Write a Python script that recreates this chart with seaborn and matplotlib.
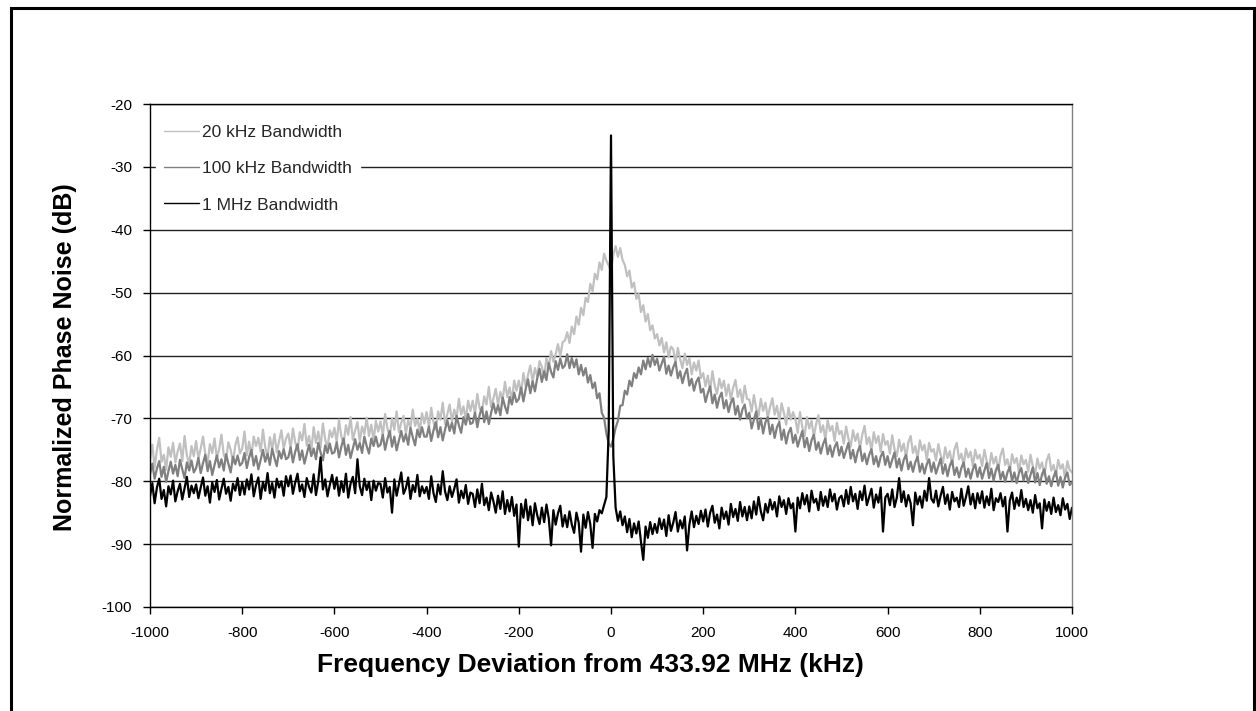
import numpy as np
import pandas as pd
import matplotlib
matplotlib.use("Agg")
import matplotlib.pyplot as plt
import seaborn as sns
from matplotlib.patches import Rectangle

# Sweep grid: -1000 .. 1000 kHz in 5 kHz steps (401 points)
freq_khz = np.linspace(-1000, 1000, 401)

bw_20khz = [
    -76.5, -74.2, -77.8, -75.0, -73.1, -76.9, -75.8, -78.2, -74.6, -76.1, -73.9, -77.0, -75.3, -74.0, -76.8, -72.8, -75.9, -77.3, -74.4, -76.0,
    -73.6, -76.4, -74.8, -72.9, -75.7, -77.1, -74.1, -75.5, -73.2, -76.3, -74.9, -72.6, -75.8, -76.6, -73.8, -75.0, -77.0, -74.3, -73.0, -75.6,
    -74.8, -72.1, -75.9, -73.7, -76.0, -72.9, -74.4, -73.1, -75.3, -71.8, -74.6, -76.2, -73.0, -74.9, -72.5, -75.4, -73.6, -71.9, -74.8, -73.2,
    -72.4, -74.9, -71.6, -73.8, -75.1, -72.2, -73.5, -70.9, -74.3, -72.8, -75.0, -71.4, -73.9, -72.1, -74.6, -70.8, -73.3, -74.8, -71.9, -73.0,
    -71.5, -73.8, -70.2, -72.9, -74.0, -71.1, -72.6, -69.8, -73.4, -71.9, -70.6, -73.7, -71.3, -72.5, -69.9, -72.8, -71.0, -73.5, -70.4, -72.1,
    -70.5, -72.8, -69.3, -71.6, -72.9, -70.0, -71.8, -68.9, -72.2, -70.7, -69.6, -72.4, -70.3, -71.5, -68.6, -71.2, -70.1, -72.0, -69.2, -70.8,
    -69.0, -71.4, -68.3, -70.6, -71.8, -68.9, -70.2, -67.5, -70.9, -69.3, -67.8, -70.5, -68.6, -69.9, -66.9, -69.4, -68.1, -70.2, -67.2, -68.8,
    -67.2, -69.3, -66.1, -68.4, -69.0, -66.5, -67.8, -65.0, -68.2, -66.8, -65.3, -67.9, -65.8, -67.0, -64.2, -66.6, -65.1, -67.2, -64.0, -65.6,
    -64.0, -66.0, -62.8, -64.9, -63.1, -61.6, -64.2, -62.0, -63.3, -60.9, -61.8, -63.5, -60.4, -61.9, -59.3, -61.0, -59.8, -58.2, -60.1, -57.9,
    -57.6, -56.3, -58.0, -55.4, -56.6, -53.8, -55.1, -52.4, -53.6, -50.8, -51.5, -48.6, -49.8, -47.0, -47.9, -45.2, -46.4, -43.8, -44.9, -45.7,
    -46.5, -44.0, -42.6, -44.3, -42.9, -44.8, -45.6, -47.4, -46.5, -49.2, -48.4, -51.0, -50.2, -53.1, -52.0, -54.6, -53.4, -56.0, -55.2, -57.3,
    -56.6, -58.4, -57.2, -59.5, -57.9, -60.3, -58.6, -59.0, -61.2, -58.8, -60.6, -62.0, -59.7, -61.5, -60.4, -63.0, -61.1, -62.4, -60.8, -63.6,
    -62.8, -64.9, -63.2, -65.6, -62.5, -64.8, -66.1, -63.7, -65.2, -64.0, -66.4, -64.6, -67.0, -65.1, -63.9, -66.6, -65.4, -67.5, -64.8, -66.9,
    -67.0, -68.9, -66.3, -68.4, -69.6, -66.9, -68.8, -67.5, -69.9, -68.2, -66.8, -69.4, -68.0, -70.5, -67.6, -69.1, -71.0, -68.3, -70.2, -69.0,
    -70.1, -72.3, -69.0, -71.4, -72.8, -69.8, -71.6, -70.4, -72.9, -70.9, -69.5, -72.2, -71.1, -73.4, -70.3, -72.0, -71.2, -73.6, -70.7, -72.5,
    -72.0, -74.0, -71.3, -73.2, -74.5, -71.9, -73.6, -72.4, -74.8, -72.6, -71.2, -74.1, -73.0, -75.1, -72.2, -73.9, -72.8, -75.3, -72.5, -74.2,
    -73.6, -75.6, -72.7, -74.9, -76.0, -73.4, -75.2, -74.0, -76.3, -73.8, -72.8, -75.5, -74.4, -76.4, -73.5, -75.1, -74.2, -76.6, -73.9, -75.3,
    -74.9, -76.7, -74.1, -75.8, -77.1, -74.6, -76.3, -75.2, -77.4, -74.9, -73.9, -76.5, -75.6, -77.5, -74.8, -76.2, -75.3, -77.6, -75.0, -76.4,
    -75.8, -77.6, -75.0, -76.8, -78.0, -75.5, -77.2, -76.1, -78.3, -75.9, -74.8, -77.4, -76.5, -78.4, -75.7, -77.1, -76.3, -78.6, -75.9, -77.3,
    -76.6, -78.5, -75.8, -77.6, -78.9, -76.4, -78.0, -77.0, -79.1, -76.7, -75.7, -78.3, -77.4, -79.2, -76.6, -78.0, -77.3, -79.5, -76.8, -78.2,
    -78.6,
]

bw_100khz = [
    -78.9, -77.2, -79.6, -78.0, -76.8, -79.3, -77.7, -80.1, -78.4, -76.9, -78.8, -77.4, -79.2, -76.6, -78.1, -79.5, -77.0, -78.3, -76.7, -78.6,
    -77.9, -76.3, -78.7, -77.1, -75.8, -78.4, -76.8, -79.0, -77.4, -75.9, -77.8, -76.5, -78.3, -75.7, -77.2, -78.6, -76.1, -77.3, -75.9, -77.5,
    -77.1, -75.5, -77.9, -76.2, -75.0, -77.5, -76.0, -78.1, -76.6, -75.0, -76.9, -75.6, -77.4, -74.8, -76.3, -77.6, -75.2, -76.4, -74.9, -76.5,
    -76.2, -74.6, -77.0, -75.3, -74.1, -76.6, -75.1, -77.2, -75.7, -74.2, -76.0, -74.8, -76.5, -73.9, -75.4, -76.7, -74.3, -75.5, -74.0, -75.6,
    -75.4, -73.8, -76.2, -74.5, -73.2, -75.8, -74.2, -76.3, -74.8, -73.3, -75.0, -73.9, -75.5, -72.9, -74.4, -75.6, -73.2, -74.4, -72.9, -74.5,
    -74.2, -72.6, -75.0, -73.3, -72.0, -74.5, -72.9, -75.1, -73.5, -72.0, -73.7, -72.5, -74.2, -71.5, -73.0, -74.3, -71.8, -73.0, -71.4, -72.9,
    -72.9, -71.3, -73.6, -71.9, -70.6, -73.0, -71.4, -73.5, -71.8, -70.3, -72.0, -70.7, -72.4, -69.6, -71.1, -72.3, -69.8, -71.0, -69.3, -70.9,
    -70.7, -69.1, -71.4, -69.5, -68.2, -70.6, -68.9, -70.9, -69.1, -67.6, -69.2, -67.9, -69.5, -66.7, -68.1, -69.2, -66.6, -67.8, -65.9, -67.4,
    -66.9, -65.1, -67.3, -65.3, -63.8, -66.0, -64.1, -65.7, -63.6, -62.1, -64.2, -62.5, -63.9, -61.2, -62.6, -63.5, -60.9, -62.3, -60.5, -62.0,
    -61.6, -59.8, -62.0, -60.4, -61.9, -60.6, -63.0, -61.5, -63.2, -62.0, -64.3, -63.1, -65.2, -64.3, -66.8, -66.0, -69.1, -69.9, -72.4, -74.0,
    -74.5, -73.2, -71.5, -70.4, -68.0, -67.9, -65.6, -66.2, -64.0, -64.9, -62.8, -63.6, -61.9, -63.0, -60.8, -62.2, -60.4, -61.8, -59.9, -61.5,
    -60.5, -62.4, -61.3, -60.2, -62.9, -61.6, -63.2, -61.9, -61.0, -63.6, -62.5, -64.4, -63.0, -62.1, -64.8, -63.7, -65.6, -64.2, -63.5, -65.9,
    -65.3, -67.4, -66.0, -64.9, -67.6, -66.2, -68.3, -66.7, -65.9, -68.4, -67.1, -69.0, -67.5, -66.8, -69.4, -68.0, -70.2, -68.6, -67.8, -70.0,
    -69.1, -71.6, -70.2, -68.9, -71.7, -70.0, -72.4, -70.6, -69.8, -72.5, -71.0, -73.1, -71.4, -70.6, -73.4, -71.8, -74.0, -72.3, -71.5, -73.9,
    -72.6, -74.5, -73.2, -72.0, -74.6, -73.1, -75.2, -73.5, -72.6, -75.0, -73.8, -75.6, -74.1, -73.2, -75.7, -74.3, -76.1, -74.6, -73.8, -75.9,
    -74.5, -76.3, -75.1, -73.9, -76.4, -75.0, -77.0, -75.3, -74.4, -76.8, -75.6, -77.3, -75.8, -74.9, -77.3, -76.0, -77.7, -76.1, -75.3, -77.4,
    -76.0, -77.8, -76.6, -75.4, -77.8, -76.4, -78.3, -76.6, -75.8, -78.1, -76.9, -78.5, -77.0, -76.1, -78.5, -77.2, -78.8, -77.3, -76.5, -78.5,
    -77.0, -78.8, -77.6, -76.4, -78.8, -77.3, -79.2, -77.5, -76.7, -79.0, -77.8, -79.4, -77.9, -77.0, -79.3, -78.0, -79.6, -78.1, -77.3, -79.3,
    -77.8, -79.6, -78.3, -77.1, -79.5, -78.0, -79.9, -78.2, -77.4, -79.7, -78.5, -80.1, -78.6, -77.7, -80.0, -78.6, -80.3, -78.7, -77.9, -79.9,
    -78.5, -80.3, -79.0, -77.8, -80.2, -78.7, -80.6, -78.9, -78.1, -80.4, -79.2, -80.8, -79.3, -78.4, -80.7, -79.3, -81.0, -79.4, -78.6, -80.6,
    -80.2,
]

bw_1mhz = [
    -82.4, -80.3, -83.5, -81.0, -79.6, -82.8, -81.4, -84.0, -80.8, -82.1, -79.9, -83.2, -81.6, -80.4, -82.9, -81.1, -79.3, -82.5, -80.7, -81.9,
    -80.5, -82.7, -81.0, -79.4, -82.3, -80.8, -83.4, -80.2, -81.7, -79.8, -82.9, -81.2, -79.6, -82.0, -80.9, -83.1, -80.4, -81.5, -79.5, -82.2,
    -80.2, -82.1, -79.7, -81.3, -78.9, -82.4, -80.6, -79.4, -82.8, -80.1, -81.5, -78.7, -81.9, -80.3, -82.6, -79.6, -81.0, -80.0, -82.3, -79.2,
    -80.8, -79.1, -82.0, -80.2, -78.8, -81.6, -80.5, -82.5, -79.5, -80.9, -81.8, -78.9, -82.2, -80.0, -76.2, -81.3, -79.7, -82.4, -80.6, -79.0,
    -81.2, -79.4, -82.3, -80.0, -81.7, -78.8, -82.6, -80.4, -79.3, -81.9, -76.5, -80.8, -82.2, -79.6, -81.4, -80.1, -83.0, -79.9, -81.5, -80.3,
    -80.4, -82.6, -79.5, -81.8, -80.9, -85.0, -79.7, -82.3, -80.5, -78.6, -82.0, -81.1, -79.4, -82.8, -80.6, -81.7, -79.0, -82.4, -80.8, -81.9,
    -80.9, -82.8, -79.2, -81.9, -83.3, -80.5, -82.1, -78.4, -81.6, -83.0, -80.8, -82.5, -81.2, -79.7, -83.4, -81.5, -82.7, -80.6, -83.6, -81.8,
    -82.0, -84.1, -81.3, -83.5, -80.4, -83.8, -82.6, -84.6, -81.8, -83.2, -85.0, -82.3, -84.4, -81.6, -85.2, -83.0, -84.8, -82.5, -85.5, -83.7,
    -90.4, -83.6, -85.8, -82.9, -86.2, -84.0, -87.0, -83.5, -85.4, -86.8, -84.2, -86.5, -83.7, -85.9, -90.2, -84.6, -86.9, -85.1, -83.9, -87.2,
    -85.4, -87.3, -84.8, -86.9, -88.2, -85.0, -86.6, -91.2, -85.3, -87.4, -84.9, -86.8, -90.6, -85.2, -86.4, -84.6, -85.1, -83.8, -82.5, -72.0,
    -25.0, -76.0, -84.2, -86.3, -84.8, -87.0, -85.6, -88.1, -86.0, -88.9, -86.7, -88.3, -86.4, -89.6, -92.5, -87.2, -89.0, -86.5, -88.4, -86.8,
    -88.2, -85.9, -87.6, -86.1, -88.7, -85.4, -87.9, -86.6, -84.9, -88.0, -86.2, -87.5, -85.6, -91.0, -86.9, -84.8, -87.3, -85.5, -86.8, -84.7,
    -86.4, -84.5, -87.2, -85.0, -83.9, -86.6, -85.3, -87.5, -84.2, -86.0, -84.8, -86.9, -83.6, -85.7, -84.4, -86.3, -83.3, -85.6, -84.1, -86.2,
    -84.0, -85.9, -83.2, -85.3, -82.5, -84.8, -86.2, -83.6, -85.0, -82.9, -84.5, -83.3, -85.6, -82.4, -84.1, -83.0, -85.2, -82.7, -84.3, -83.5,
    -88.0, -82.6, -84.3, -81.9, -83.7, -82.2, -84.8, -81.5, -83.4, -82.8, -84.6, -81.7, -83.9, -82.4, -84.1, -81.3, -83.2, -82.0, -84.5, -82.7,
    -82.3, -84.0, -81.4, -83.6, -80.9, -83.2, -82.0, -84.4, -81.6, -83.0, -80.7, -83.8, -82.5, -81.2, -84.2, -82.1, -83.4, -81.0, -88.0, -82.6,
    -82.0, -83.8, -81.3, -84.1, -82.6, -79.5, -83.3, -81.6, -84.0, -82.2, -83.5, -87.0, -81.8, -83.7, -82.4, -84.2, -81.5, -83.1, -79.5, -82.8,
    -83.4, -81.5, -84.0, -82.3, -80.9, -83.6, -82.1, -84.5, -81.7, -83.2, -82.6, -84.1, -81.2, -83.9, -82.5, -80.8, -83.7, -82.0, -84.3, -81.9,
    -83.5, -81.6, -84.2, -82.4, -83.8, -81.2, -84.6, -82.7, -83.3, -81.9, -84.0, -82.5, -88.0, -83.1, -81.8, -84.4, -82.6, -83.9, -81.4, -84.1,
    -82.8, -84.6, -83.0, -85.0, -82.2, -84.3, -83.5, -87.5, -82.9, -84.7, -83.3, -85.2, -82.6, -84.9, -83.8, -85.4, -82.7, -84.5, -83.6, -86.0,
    -84.2,
]

series_names = ["20 kHz Bandwidth", "100 kHz Bandwidth", "1 MHz Bandwidth"]
series_colors = ["#c0c0c0", "#808080", "#000000"]
y_ticks = [-100, -90, -80, -70, -60, -50, -40, -30, -20]
x_ticks = [-1000, -800, -600, -400, -200, 0, 200, 400, 600, 800, 1000]
x_title = "Frequency Deviation from 433.92 MHz (kHz)"
y_title = "Normalized Phase Noise (dB)"

for arr in (bw_20khz, bw_100khz, bw_1mhz):
    if len(arr) != len(freq_khz):
        raise ValueError(f"length mismatch {len(arr)}")

frames = []
for name, vals in zip(series_names, (bw_20khz, bw_100khz, bw_1mhz)):
    frames.append(pd.DataFrame({"freq": freq_khz, "level": vals, "series": name}))
df = pd.concat(frames, ignore_index=True)

sns.set_theme(style="white")
plt.rcParams["font.family"] = ["Liberation Sans", "DejaVu Sans"]
plt.rcParams["axes.unicode_minus"] = False

W, H = 1256, 711
fig = plt.figure(figsize=(W / 100, H / 100), dpi=100)
fig.patch.set_facecolor("white")
ax = fig.add_axes([150 / W, 1 - 607 / H, (1072 - 150) / W, (607 - 104) / H])

sns.lineplot(data=df, x="freq", y="level", hue="series", hue_order=series_names,
             palette=dict(zip(series_names, series_colors)), estimator=None,
             sort=False, linewidth=1.6, ax=ax)

ax.set_xlim(-1000, 1000)
ax.set_ylim(-100, -20)
ax.set_xticks(x_ticks)
ax.set_xticklabels([str(v) for v in x_ticks], fontsize=11)
ax.set_yticks(y_ticks)
ax.set_yticklabels([str(v) for v in y_ticks], fontsize=11)
ax.set_axisbelow(True)
ax.yaxis.grid(True, color="#222222", linewidth=1.0)
ax.xaxis.grid(False)
ax.tick_params(axis="both", which="major", bottom=True, left=True, direction="out",
               length=5, width=1.0, color="black", labelcolor="black")
ax.tick_params(axis="x", pad=9)
ax.tick_params(axis="y", pad=8)

for side in ("left", "bottom", "top"):
    ax.spines[side].set_color("black")
    ax.spines[side].set_linewidth(1.0)
ax.spines["right"].set_color("#808080")
ax.spines["right"].set_linewidth(1.0)

ax.set_xlabel(x_title, fontsize=19, fontweight="bold", color="black")
ax.xaxis.label.set_va("center")
ax.xaxis.set_label_coords((590 - 150) / 922, -(665 - 607) / 503)
ax.set_ylabel(y_title, fontsize=18, fontweight="bold", color="black")
ax.yaxis.label.set_va("center")
ax.yaxis.set_label_coords(-(150 - 65) / 922, (607 - 357) / 503)

handles, labels = ax.get_legend_handles_labels()
leg = ax.legend(handles, labels, loc="upper left", bbox_to_anchor=(0.006, 0.976),
                fontsize=12.5, frameon=True, framealpha=1.0, facecolor="white",
                edgecolor="white", fancybox=False, handlelength=2.0,
                handletextpad=0.17, labelspacing=1.22, borderpad=0.5,
                borderaxespad=0.0)
for line in leg.get_lines():
    line.set_linewidth(1.0)

fig.patches.append(Rectangle((10.5 / W, -0.05), (1253.5 - 10.5) / W, 1.05 - 8 / H,
                             transform=fig.transFigure, fill=False,
                             edgecolor="black", linewidth=2.2, zorder=10))

fig.savefig("out.png", dpi=100, facecolor="white")
